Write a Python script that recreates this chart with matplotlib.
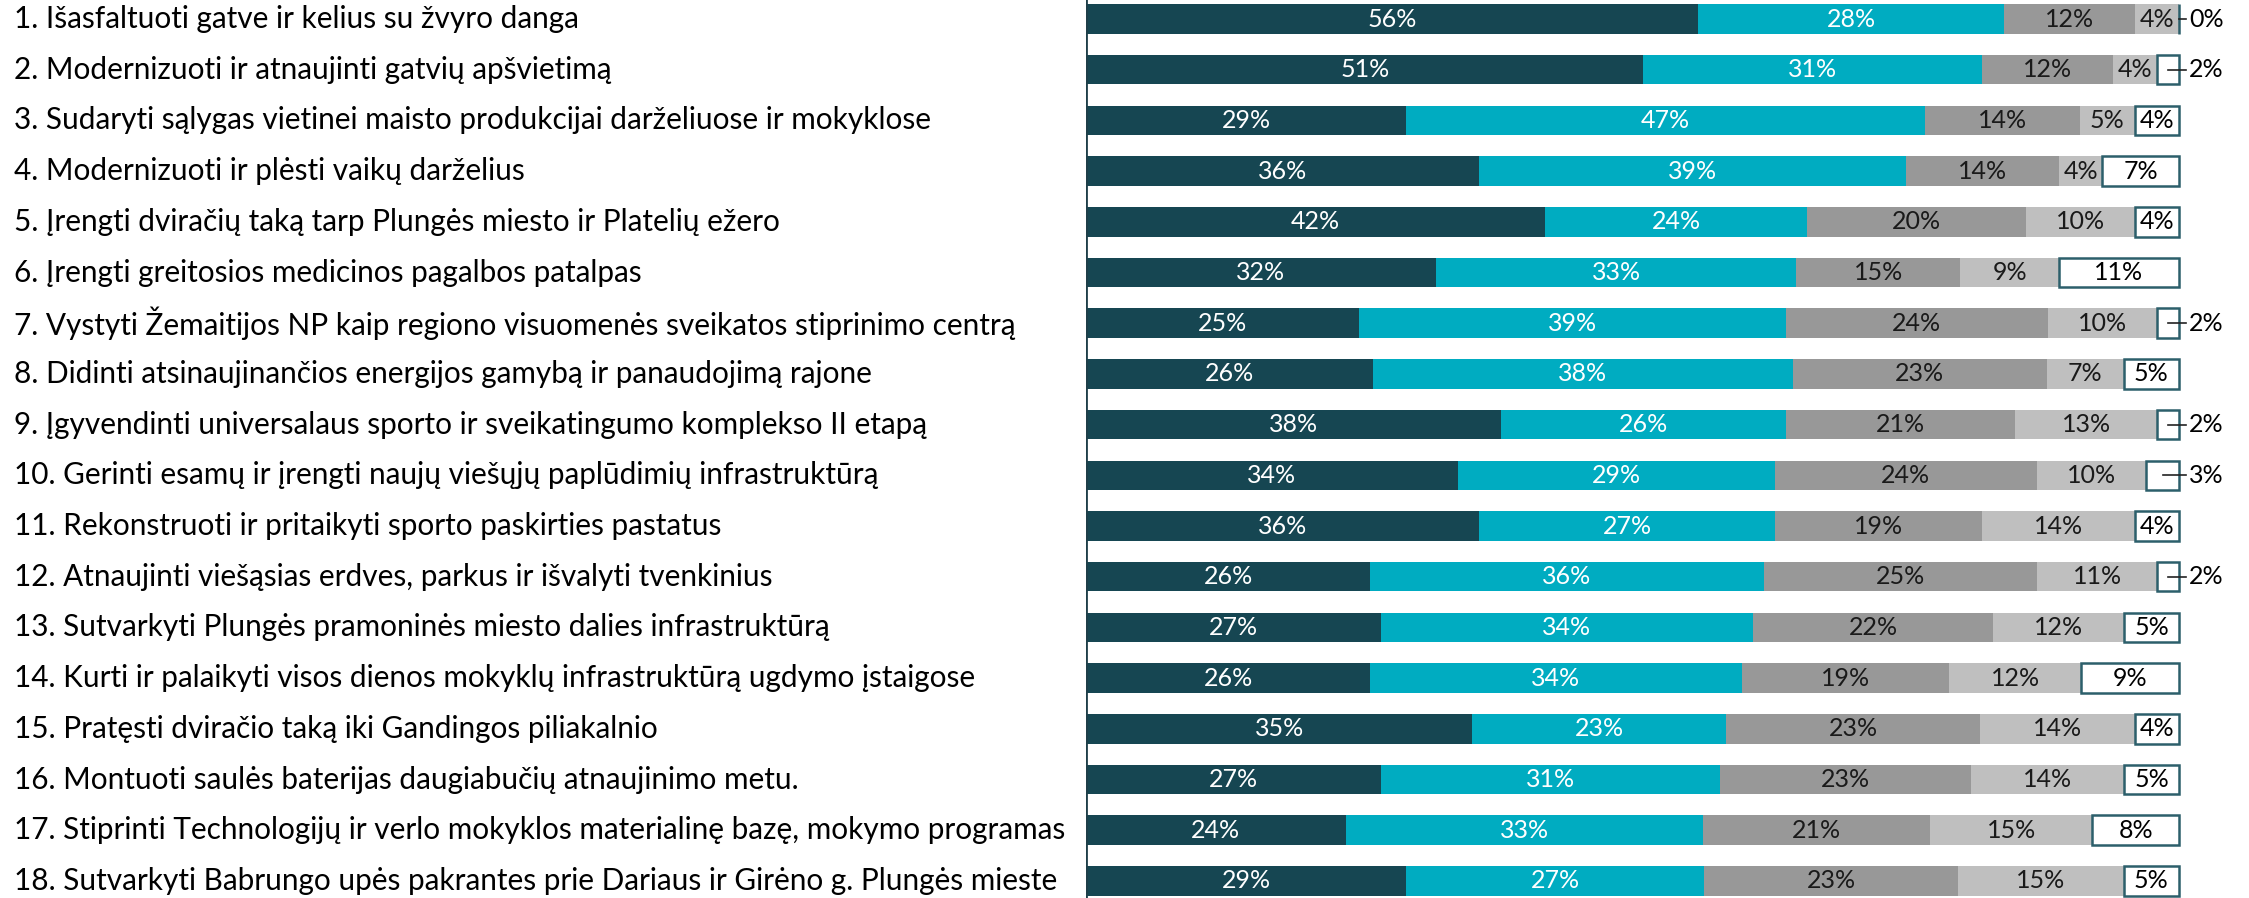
import matplotlib
matplotlib.use("Agg")
import matplotlib.pyplot as plt
import numpy as np
from matplotlib.transforms import blended_transform_factory

plt.rcParams['font.family'] = ['Lato', 'DejaVu Sans']

labels = [
    "1. Išasfaltuoti gatve ir kelius su žvyro danga",
    "2. Modernizuoti ir atnaujinti gatvių apšvietimą",
    "3. Sudaryti sąlygas vietinei maisto produkcijai darželiuose ir mokyklose",
    "4. Modernizuoti ir plėsti vaikų darželius",
    "5. Įrengti dviračių taką tarp Plungės miesto ir Platelių ežero",
    "6. Įrengti greitosios medicinos pagalbos patalpas",
    "7. Vystyti Žemaitijos NP kaip regiono visuomenės sveikatos stiprinimo centrą",
    "8. Didinti atsinaujinančios energijos gamybą ir panaudojimą rajone",
    "9. Įgyvendinti universalaus sporto ir sveikatingumo komplekso II etapą",
    "10. Gerinti esamų ir įrengti naujų viešųjų paplūdimių infrastruktūrą",
    "11. Rekonstruoti ir pritaikyti sporto paskirties pastatus",
    "12. Atnaujinti viešąsias erdves, parkus ir išvalyti tvenkinius",
    "13. Sutvarkyti Plungės pramoninės miesto dalies infrastruktūrą",
    "14. Kurti ir palaikyti visos dienos mokyklų infrastruktūrą ugdymo įstaigose",
    "15. Pratęsti dviračio taką iki Gandingos piliakalnio",
    "16. Montuoti saulės baterijas daugiabučių atnaujinimo metu.",
    "17. Stiprinti Technologijų ir verlo mokyklos materialinę bazę, mokymo programas",
    "18. Sutvarkyti Babrungo upės pakrantes prie Dariaus ir Girėno g. Plungės mieste",
]

s1 = [56, 51, 29, 36, 42, 32, 25, 26, 38, 34, 36, 26, 27, 26, 35, 27, 24, 29]
s2 = [28, 31, 47, 39, 24, 33, 39, 38, 26, 29, 27, 36, 34, 34, 23, 31, 33, 27]
s3 = [12, 12, 14, 14, 20, 15, 24, 23, 21, 24, 19, 25, 22, 19, 23, 23, 21, 23]
s4 = [4, 4, 5, 4, 10, 9, 10, 7, 13, 10, 14, 11, 12, 12, 14, 14, 15, 15]
s5 = [0, 2, 4, 7, 4, 11, 2, 5, 2, 3, 4, 2, 5, 9, 4, 5, 8, 5]

colors = ["#164652", "#00ACC1", "#989898", "#BFBFBF", "#FFFFFF"]
text_colors = ["white", "white", "#1a1a1a", "#1a1a1a", "black"]

W, H = 2249, 898
fig = plt.figure(figsize=(W / 100, H / 100), dpi=100)
left_px = 1086
one_px = 1093  # pixels for 100%
ax = fig.add_axes([left_px / W, 0, 1 - left_px / W, 1])

pitch = 50.7
first = 19
ax.set_ylim((H - first) / pitch, -first / pitch)
ax.set_xlim(0, (W - left_px) / one_px)

data = np.array([s1, s2, s3, s4, s5], dtype=float)
data = data / data.sum(axis=0)
y = np.arange(len(labels))
left = np.zeros(len(labels))
for k in range(5):
    ec = "#2C5F6B" if k == 4 else "none"
    lw = 1.8 if k == 4 else 0
    ax.barh(y, data[k], left=left, height=0.58, color=colors[k],
            edgecolor=ec, linewidth=lw, zorder=2)
    raw = [s1, s2, s3, s4, s5][k]
    for i in range(len(labels)):
        cx = left[i] + data[k][i] / 2
        if k == 4 and raw[i] < 4:
            # small share: label outside with a leader line
            ax.plot([cx, 1.006], [i, i], color="#222222", lw=1.2, zorder=3)
            ax.text(1.009, i, f"{raw[i]}%", ha="left", va="center",
                    fontsize=18, color="black")
        else:
            ax.text(cx, i, f"{raw[i]}%", ha="center", va="center",
                    fontsize=18, color=text_colors[k], zorder=4)
    left += data[k]

ax.axvline(0, color="#1F3F49", lw=2, zorder=5)
for sp in ax.spines.values():
    sp.set_visible(False)
ax.set_xticks([])
ax.set_yticks([])

tr = blended_transform_factory(fig.transFigure, ax.transData)
for i, lab in enumerate(labels):
    ax.text(14 / W, i, lab, transform=tr, ha="left", va="center",
            fontsize=21.4, color="black", clip_on=False)

fig.savefig("out.png", dpi=100)
